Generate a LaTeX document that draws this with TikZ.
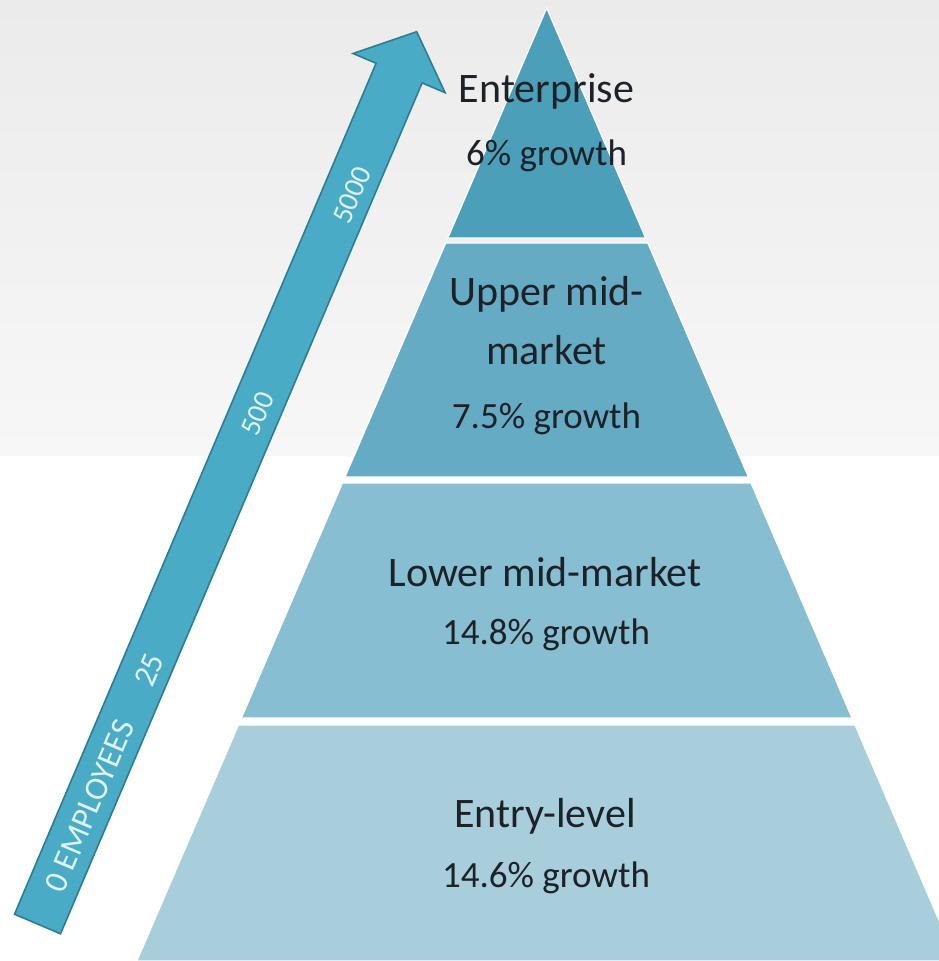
\documentclass[tikz,border=0pt]{standalone}
\usepackage{fontspec}
\setmainfont{Carlito}
\definecolor{bgtop}{RGB}{235,235,235}
\definecolor{bgmid}{RGB}{247,247,247}
\definecolor{tierA}{RGB}{75,159,185}
\definecolor{tierB}{RGB}{101,171,196}
\definecolor{tierC}{RGB}{135,190,209}
\definecolor{tierD}{RGB}{168,205,219}
\definecolor{arrowfill}{RGB}{74,171,198}
\definecolor{arrowline}{RGB}{45,125,148}
\definecolor{arrowtext}{RGB}{222,243,248}
\definecolor{labeltext}{RGB}{28,34,40}
\begin{document}
\begin{tikzpicture}[x=1pt,y=-1pt,
  tier/.style={draw=white,line width=1.2pt},
  namelbl/.style={anchor=base,inner sep=0pt,text=labeltext,font=\fontsize{42}{48}\selectfont},
  growlbl/.style={anchor=base,inner sep=0pt,text=labeltext,font=\fontsize{37}{44}\selectfont},
  arrowlbl/.style={inner sep=0pt,text=arrowtext,rotate=67},
]
\useasboundingbox (0,0) rectangle (939,961);
\begin{scope}
\clip (0,0) rectangle (939,961);
% background
\fill[white] (0,0) rectangle (939,961);
\shade[top color=bgtop,bottom color=bgmid] (0,0) rectangle (939,455);
% pyramid tiers
\fill[tierA,tier] (546.7,8) -- (645.6,238) -- (447.8,238) -- cycle;
\fill[tierB,tier] (445.7,243) -- (647.8,243) -- (748.4,477) -- (345.0,477) -- cycle;
\fill[tierC,tier] (342.5,483) -- (751.0,483) -- (852.0,718) -- (241.4,718) -- cycle;
\fill[tierD,tier] (238.4,725) -- (855.0,725) -- (956.5,961) -- (136.9,961) -- cycle;
\end{scope}
% arrow
\coordinate (tl) at (14.5,914.2);
\coordinate (tr) at (60.5,933.8);
\coordinate (nl) at (376.1,63.3);
\coordinate (nr) at (422.1,82.9);
\coordinate (bl) at (353.1,53.5);
\coordinate (br) at (445.1,92.7);
\coordinate (tip) at (416.7,31.7);
\filldraw[fill=arrowfill,draw=arrowline,line width=1.6pt,line join=miter]
  (tl) -- (nl) -- (bl) -- (tip) -- (br) -- (nr) -- (tr) -- cycle;
\node[arrowlbl,font=\fontsize{33}{38}\selectfont] (emp) at (89.5,806.0) {0 EMPLOYEES};
\node[arrowlbl,font=\fontsize{32}{37}\selectfont] (n25) at (149.0,670.0) {25};
\node[arrowlbl,font=\fontsize{29}{34}\selectfont] (n500) at (258.0,414.0) {500};
\node[arrowlbl,font=\fontsize{29}{34}\selectfont] (n5000) at (352.0,195.0) {5000};
% texts
\node[namelbl] (ent) at (546.5,102) {Enterprise};
\node[growlbl] (entg) at (546.5,165) {6\% growth};
\node[namelbl] (up1) at (546.5,305) {Upper mid-};
\node[namelbl] (up2) at (546.5,364) {market};
\node[growlbl] (upg) at (546.5,428) {7.5\% growth};
\node[namelbl] (low) at (545,586) {Lower mid-market};
\node[growlbl] (lowg) at (546,644) {14.8\% growth};
\node[namelbl] (entry) at (545,827) {Entry-level};
\node[growlbl] (entryg) at (546,887) {14.6\% growth};
\end{tikzpicture}
\end{document}
